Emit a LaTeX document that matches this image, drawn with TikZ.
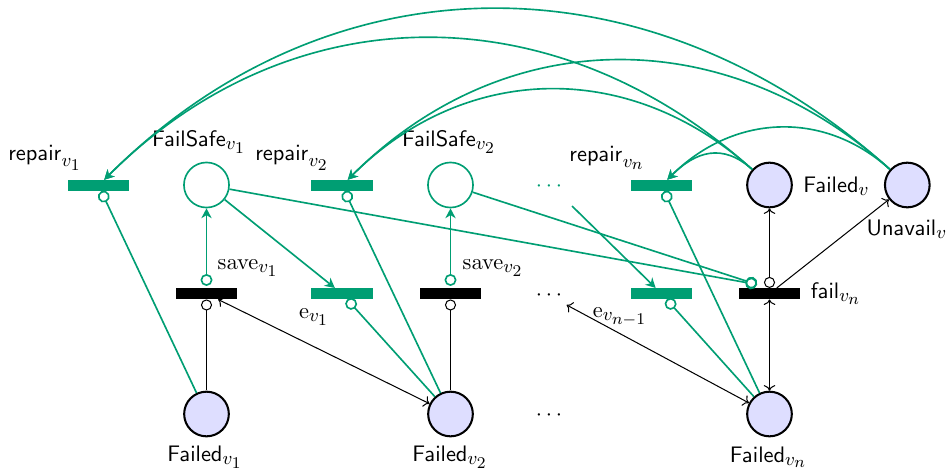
\documentclass[tikz,border=0pt]{standalone}
\usetikzlibrary{arrows.meta}
\DeclareMathSizes{11}{11}{9.2}{7.6}
\definecolor{pgreen}{RGB}{0,158,115}
\definecolor{pfill}{RGB}{222,222,255}
\begin{document}
\begin{tikzpicture}[x=0.488pt,y=0.488pt,
  font=\fontsize{11}{13}\selectfont,
  place/.style={circle,draw=black,line width=1pt,fill=pfill,minimum size=21.8pt,inner sep=0pt},
  gplace/.style={circle,draw=pgreen,line width=0.8pt,minimum size=22pt,inner sep=0pt},
  trans/.style={rectangle,fill=black,minimum width=29.8pt,minimum height=5.2pt,inner sep=0pt},
  gtrans/.style={trans,fill=pgreen},
  dotsnode/.style={inner sep=2pt},
  lbl/.style={inner sep=0pt},
  garc/.style={draw=pgreen,line width=0.8pt},
  ginh/.style={garc,-{Circle[open,length=5.8pt]}},
  gout/.style={garc,-{Stealth[length=4.8pt,width=5pt,inset=1.5pt]}},
  gsave/.style={garc,shorten <=1pt,{Circle[open,length=5.8pt]}-{Stealth[length=4.8pt,width=5pt,inset=1.5pt]}},
  barc/.style={draw=black,line width=0.5pt},
  binh/.style={barc,shorten <=0.5pt,-{Circle[open,length=5.4pt]}},
  bboth/.style={barc,{To}-{To}},
  bout/.style={barc,-{To}},
  binhout/.style={barc,{Circle[open,length=5.4pt]}-{To}},
  bigarc/.style={out=138,in=45,looseness=1.045}
]
\useasboundingbox (0,0) rectangle (946,-472);

% top row
\node[gtrans] (r1) at (98.5,-185.5) {};
\node[gplace] (FS1) at (206.5,-185) {};
\node[gtrans] (r2) at (342,-185.5) {};
\node[gplace] (FS2) at (450.5,-185) {};
\node[dotsnode,text=pgreen] (gdots) at (549,-187) {$\cdots$};
\node[gtrans] (rn) at (661.5,-185.5) {};
\node[place] (Fv) at (769.5,-185) {};
\node[place] (Uv) at (907.3,-185) {};
% middle row
\node[trans] (s1) at (206.5,-293.7) {};
\node[gtrans] (e1) at (342,-293.7) {};
\node[trans] (s2) at (450.5,-293.7) {};
\node[dotsnode] (bdots) at (549,-295.5) {$\cdots$};
\node[gtrans] (en) at (661.5,-293.7) {};
\node[trans] (fail) at (769.5,-293.7) {};
% bottom row
\node[place] (Fv1) at (206.5,-414) {};
\node[place] (Fv2) at (450.5,-414) {};
\node[dotsnode] (ddots) at (549,-416) {$\cdots$};
\node[place] (Fvn) at (769.5,-414) {};

% labels
\node[lbl] (lr1) at (45,-158) {$\mathsf{repair}_{v_1}$};
\node[lbl] (lFS1) at (199,-142) {$\mathsf{FailSafe}_{v_1}$};
\node[lbl] (lr2) at (292,-158) {$\mathsf{repair}_{v_2}$};
\node[lbl] (lFS2) at (449,-142) {$\mathsf{FailSafe}_{v_2}$};
\node[lbl] (lrn) at (607,-158) {$\mathsf{repair}_{v_n}$};
\node[lbl] (lFv) at (836.5,-186) {$\mathsf{Failed}_{v}$};
\node[lbl] (lUv) at (907,-229) {$\mathsf{Unavail}_{v}$};
\node[lbl] (lfail) at (836,-293.5) {$\mathsf{fail}_{v_n}$};
\node[lbl] (ls1) at (248,-268) {$\mathrm{save}_{v_1}$};
\node[lbl] (le1) at (314,-317) {$\mathrm{e}_{v_1}$};
\node[lbl] (ls2) at (493,-268) {$\mathrm{save}_{v_2}$};
\node[lbl] (len) at (620,-317) {$\mathrm{e}_{v_{n-1}}$};
\node[lbl] (lFv1) at (205,-457) {$\mathsf{Failed}_{v_1}$};
\node[lbl] (lFv2) at (450,-457) {$\mathsf{Failed}_{v_2}$};
\node[lbl] (lFvn) at (768.5,-457) {$\mathsf{Failed}_{v_n}$};

\coordinate (finh) at (757,-284.5);
\coordinate (gstart) at (572,-206);

% green inhibitor arcs
\draw[ginh] (Fv1) -- (r1);
\draw[ginh] (Fv2) -- (r2);
\draw[ginh] (Fvn) -- (rn);
\draw[ginh] (Fv2) -- (e1);
\draw[ginh] (Fvn) -- (en);
\draw[ginh] (FS1) -- (finh);
\draw[ginh] (FS2) -- (finh);
% green output arcs
\draw[gsave] (s1) -- (FS1);
\draw[gsave] (s2) -- (FS2);
\draw[gout] (FS1) -- (e1);
\draw[gout] (gstart) -- (en);
% repair arcs
\draw[gout] (Uv) to[bigarc] (r1);
\draw[gout] (Fv) to[bigarc] (r1);
\draw[gout] (Uv) to[bigarc] (r2);
\draw[gout] (Fv) to[bigarc] (r2);
\draw[gout] (Uv) to[bigarc] (rn);
\draw[gout] (Fv) to[bigarc,looseness=1.2] (rn);

% black arcs
\draw[binh] (Fv1) -- (s1);
\draw[binh] (Fv2) -- (s2);
\draw[bboth] (s1) -- (Fv2);
\draw[bboth] (bdots) -- (Fvn);
\draw[bboth] (fail) -- (Fvn);
\draw[binhout] (fail) -- (Fv);
\draw[bout] (fail) -- (Uv);
\end{tikzpicture}
\end{document}
